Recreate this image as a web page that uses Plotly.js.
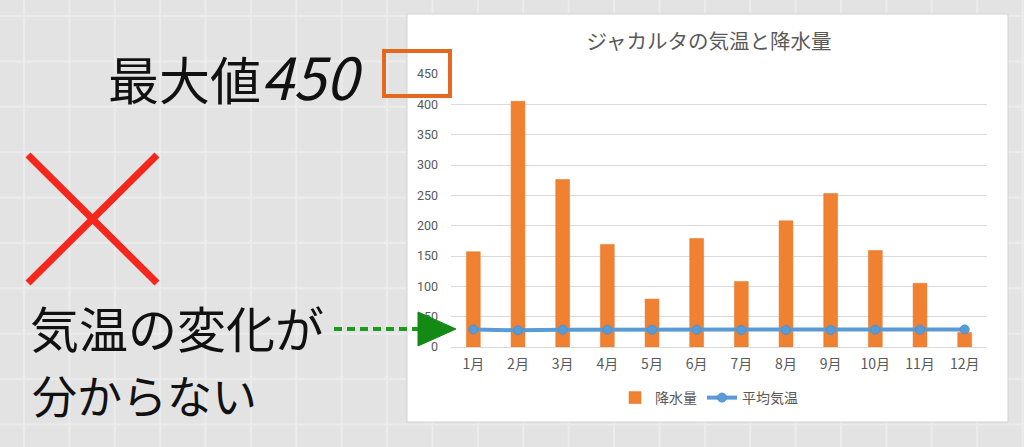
<!DOCTYPE html>
<html>
<head>
<meta charset="utf-8">
<script src="https://cdn.plot.ly/plotly-3.0.1.min.js"></script>
<style>
  html, body {
    margin: 0;
    padding: 0;
    width: 1024px;
    height: 447px;
    overflow: hidden;
    background-color: #e3e3e3;
    background-image:
      linear-gradient(to right, #ececec 1.5px, transparent 1.5px),
      linear-gradient(to bottom, #ececec 1.5px, transparent 1.5px);
    background-size: 45.4px 45.4px;
    background-position: 23px 15px;
  }
  #graph { width: 1024px; height: 447px; }
</style>
</head>
<body>
<div id="graph"></div>
<script>
// Jakarta: monthly rainfall (mm) and mean temperature (C)
const months = ['1月', '2月', '3月', '4月', '5月', '6月', '7月', '8月', '9月', '10月', '11月', '12月'];
const rainfall = [157, 405, 276, 169, 79, 179, 108, 208, 253, 159, 105, 24];
const temperature = [29, 27.5, 28.5, 28.5, 28.5, 28.5, 28, 28, 28, 28.5, 28.5, 29];
const yTicks = [0, 50, 100, 150, 200, 250, 300, 350, 400, 450];

const W = 1024, H = 447;
const margin = {l: 451, r: 37, t: 74, b: 100, pad: 0};
const plotW = W - margin.l - margin.r;
const plotH = H - margin.t - margin.b;

// pixel -> paper fraction, for the decorations around the chart
function px(x) { return (x - margin.l) / plotW; }
function py(y) { return (H - margin.b - y) / plotH; }

const cjk = '"Noto Sans CJK JP", "Noto Sans", sans-serif';

var bars = {
    x: months,
    y: rainfall,
    name: '降水量',
    type: 'bar',
    marker: {color: '#ef8131', line: {color: '#e07528', width: 0.5}},
    hoverinfo: 'x+y'
};

var temps = {
    x: months,
    y: temperature,
    name: '平均気温',
    type: 'scatter',
    mode: 'lines+markers',
    line: {color: '#5b9bd5', width: 4},
    marker: {color: '#5b9bd5', size: 9, line: {color: '#4f8fcb', width: 1}}
};

var shapes = [
    // white chart box
    {type: 'rect', xref: 'paper', yref: 'paper', layer: 'below',
     x0: px(407), x1: px(1008), y0: py(422), y1: py(14),
     fillcolor: '#ffffff', line: {color: '#d2d2d2', width: 1}},
    // orange highlight round the top tick
    {type: 'rect', xref: 'paper', yref: 'paper',
     x0: px(384), x1: px(450), y0: py(96), y1: py(51),
     line: {color: '#e2691d', width: 4}},
    // red cross
    {type: 'line', xref: 'paper', yref: 'paper',
     x0: px(28), y0: py(155), x1: px(157), y1: py(283),
     line: {color: '#f5261b', width: 7}},
    {type: 'line', xref: 'paper', yref: 'paper',
     x0: px(157), y0: py(155), x1: px(28), y1: py(283),
     line: {color: '#f5261b', width: 7}},
    // green dashed arrow
    {type: 'line', xref: 'paper', yref: 'paper',
     x0: px(334), y0: py(329), x1: px(420), y1: py(329),
     line: {color: '#1c9a1c', width: 4, dash: '8px,5px'}},
    {type: 'path', xref: 'paper', yref: 'paper',
     path: 'M ' + px(418) + ' ' + py(312) + ' L ' + px(456) + ' ' + py(329) +
           ' L ' + px(418) + ' ' + py(346) + ' Z',
     fillcolor: '#138a13', line: {color: '#138a13', width: 1}}
];

var annotations = [
    {text: '最大値<span style="font-size:58px"><i>450</i></span>', xref: 'paper', yref: 'paper',
     x: px(106), y: py(75), xanchor: 'left', yanchor: 'middle', showarrow: false,
     font: {family: cjk, size: 51, color: '#111111'}},
    {text: '気温の変化が', xref: 'paper', yref: 'paper',
     x: px(28), y: py(326), xanchor: 'left', yanchor: 'middle', showarrow: false,
     font: {family: cjk, size: 49, color: '#111111'}},
    {text: '分からない', xref: 'paper', yref: 'paper',
     x: px(30), y: py(394), xanchor: 'left', yanchor: 'middle', showarrow: false,
     font: {family: cjk, size: 45, color: '#111111'}}
];

const layout = {
    width: W,
    height: H,
    margin: margin,
    paper_bgcolor: 'rgba(0,0,0,0)',
    plot_bgcolor: 'rgba(0,0,0,0)',
    font: {family: cjk, color: '#595959', size: 12},
    title: {
        text: 'ジャカルタの気温と降水量',
        xref: 'paper', x: px(709), xanchor: 'center',
        yref: 'container', y: 1 - 42 / H, yanchor: 'middle',
        font: {family: cjk, size: 20.5, color: '#595959'}
    },
    bargap: 0.69,
    showlegend: true,
    legend: {
        orientation: 'h',
        x: px(709), xanchor: 'center',
        y: py(398), yanchor: 'middle',
        font: {family: cjk, size: 14, color: '#595959'},
        bgcolor: 'rgba(0,0,0,0)',
        itemwidth: 30
    },
    xaxis: {
        type: 'category',
        range: [-0.5, months.length - 0.5],
        showgrid: false,
        showline: true,
        linecolor: '#d9d9d9',
        ticks: '',
        ticklabelstandoff: 4,
        tickfont: {family: cjk, size: 14, color: '#595959'}
    },
    yaxis: {
        range: [0, 450],
        tickvals: yTicks,
        showgrid: true,
        gridcolor: '#d9d9d9',
        zeroline: false,
        showline: false,
        ticks: '',
        ticklabelstandoff: 12,
        tickfont: {family: 'Roboto, "Noto Sans", sans-serif', size: 12.5, color: '#595959'}
    },
    shapes: shapes,
    annotations: annotations
};

Plotly.newPlot('graph', [bars, temps], layout, {displayModeBar: false, staticPlot: true});
</script>
</body>
</html>
